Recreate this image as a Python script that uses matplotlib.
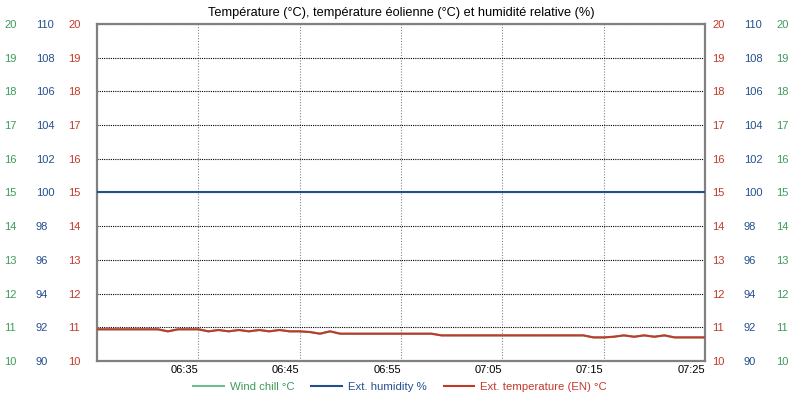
# Température / humidité - graphique
import pandas as pd
import matplotlib
matplotlib.use("Agg")
import matplotlib.pyplot as plt
import matplotlib.dates as mdates

plt.rcParams['font.family'] = ['Liberation Sans', 'DejaVu Sans']

heures = pd.date_range("2024-01-01 06:25", "2024-01-01 07:25", freq="1min")
ticks_x = pd.to_datetime(["2024-01-01 06:35", "2024-01-01 06:45", "2024-01-01 06:55",
                          "2024-01-01 07:05", "2024-01-01 07:15", "2024-01-01 07:25"])

temp_ext = [10.94, 10.94, 10.94, 10.94, 10.94, 10.94, 10.94, 10.88, 10.94, 10.94,
            10.94, 10.88, 10.92, 10.88, 10.92, 10.88, 10.92, 10.88, 10.92, 10.88,
            10.88, 10.86, 10.81, 10.88, 10.81, 10.81, 10.81, 10.81, 10.81, 10.81,
            10.81, 10.81, 10.81, 10.81, 10.76, 10.76, 10.76, 10.76, 10.76, 10.76,
            10.76, 10.76, 10.76, 10.76, 10.76, 10.76, 10.76, 10.76, 10.76, 10.70,
            10.70, 10.72, 10.76, 10.72, 10.76, 10.72, 10.76, 10.70, 10.70, 10.70,
            10.70]
# ressenti = température (vent faible), caché sous la courbe rouge
wind_chill = temp_ext
humidite = [100, 100, 100, 100, 100, 100, 100, 100, 100, 100,
            100, 100, 100, 100, 100, 100, 100, 100, 100, 100,
            100, 100, 100, 100, 100, 100, 100, 100, 100, 100,
            100, 100, 100, 100, 100, 100, 100, 100, 100, 100,
            100, 100, 100, 100, 100, 100, 100, 100, 100, 100,
            100, 100, 100, 100, 100, 100, 100, 100, 100, 100,
            100]

ticks_temp = list(range(10, 21))
ticks_hum = list(range(90, 111, 2))

ROUGE = "#c0392b"
BLEU = "#234f8e"
VERT = "#3f9a5c"
VERT_LIGNE = "#6cc08f"

fig = plt.figure(figsize=(8, 3.98), dpi=100)
ax = fig.add_axes([97 / 800, 1 - 361 / 398, 608 / 800, 337 / 398])


def axe_lateral(base, lim, ticks, couleur, cote, pad_px):
    a = base.twinx()
    a.set_ylim(lim)
    a.set_yticks(ticks)
    a.yaxis.set_ticks_position(cote)
    a.yaxis.set_label_position(cote)
    a.tick_params(axis="y", length=0, pad=pad_px * 0.72, colors=couleur, labelsize=8)
    for lbl in a.get_yticklabels():
        lbl.set_ha("left")
    for s in a.spines.values():
        s.set_visible(False)
    return a


ax_vert_g = axe_lateral(ax, (10, 20), ticks_temp, VERT, "left", 93)
ax_bleu_g = axe_lateral(ax, (90, 110), ticks_hum, BLEU, "left", 61)
ax_rouge_g = axe_lateral(ax, (10, 20), ticks_temp, ROUGE, "left", 29)
ax_rouge_d = axe_lateral(ax, (10, 20), ticks_temp, ROUGE, "right", 7)
ax_bleu_d = axe_lateral(ax, (90, 110), ticks_hum, BLEU, "right", 39)
ax_vert_d = axe_lateral(ax, (10, 20), ticks_temp, VERT, "right", 71)

# axe principal : grille et cadre
ax.set_ylim(10, 20)
ax.set_yticks(ticks_temp)
ax.tick_params(axis="y", left=False, labelleft=False)
ax.set_xlim(heures[0], heures[-1])
ax.set_xticks(ticks_x)
ax.xaxis.set_major_formatter(mdates.DateFormatter("%H:%M"))
ax.tick_params(axis="x", length=0, pad=3, labelsize=8, colors="black")
for lbl in ax.get_xticklabels():
    lbl.set_ha("right")
ax.grid(axis="y", color="black", linestyle=(0, (1, 1)), linewidth=0.8)
ax.grid(axis="x", color="#888888", linestyle=(0, (1, 1.5)), linewidth=0.8)
for s in ax.spines.values():
    s.set_color("#808080")
    s.set_linewidth(1.6)

l1, = ax_vert_g.plot(heures, wind_chill, color=VERT_LIGNE, lw=1.5, label="Wind chill °C")
l2, = ax_bleu_g.plot(heures, humidite, color=BLEU, lw=1.5, label="Ext. humidity %")
l3, = ax_rouge_g.plot(heures, temp_ext, color=ROUGE, lw=1.5, label="Ext. temperature (EN) °C")

ax.set_title("Température (°C), température éolienne (°C) et humidité relative (%)",
             fontsize=9.2, pad=6)

leg = fig.legend(handles=[l1, l2, l3], loc="lower center", ncol=3, frameon=False,
                 fontsize=8.2, handlelength=2.7, handletextpad=0.5, columnspacing=1.5,
                 bbox_to_anchor=(0.5, -0.01))
for txt, c in zip(leg.get_texts(), [VERT, BLEU, ROUGE]):
    txt.set_color(c)

fig.savefig("out.png", dpi=100)
